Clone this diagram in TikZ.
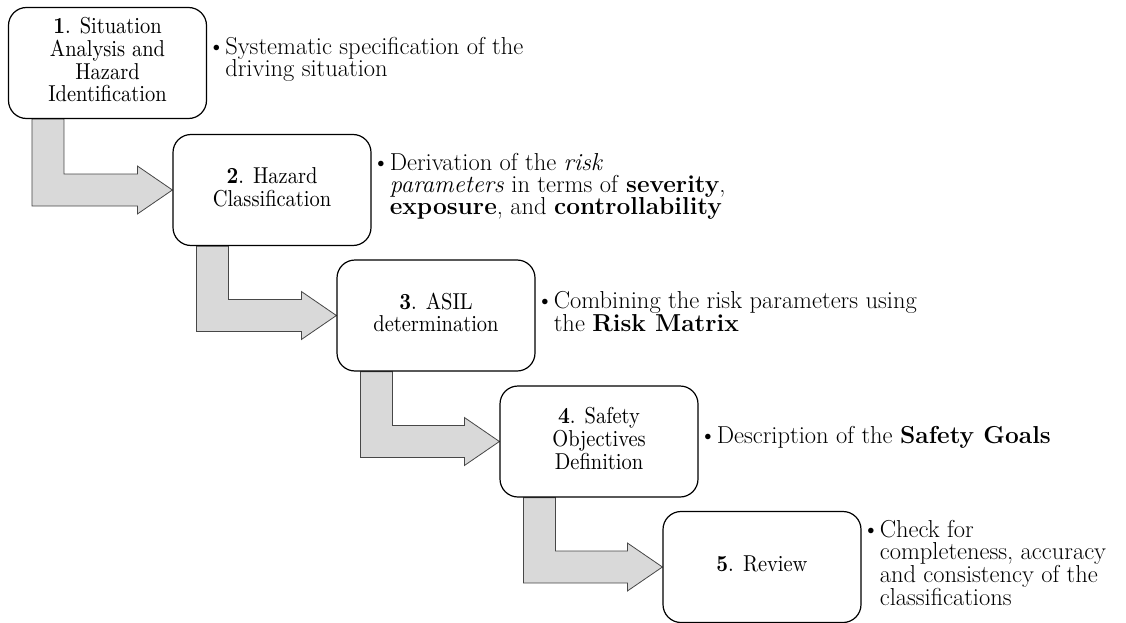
\documentclass[tikz,border=0pt]{standalone}
\usepackage{fontspec}
\usetikzlibrary{calc}
\pgfdeclarelayer{background}
\pgfsetlayers{background,main}

% narrow face for the stage labels
\newfontfamily\stagefont{lmroman10-regular.otf}[BoldFont=lmroman10-bold.otf, FakeStretch=0.89]

% stacked, centred label lines, nudged slightly above the box centre
\newcommand\stagelabel[1]{\raisebox{5pt}{\begin{tabular}{@{}c@{}}#1\end{tabular}}}

% bent gray block arrow from the bottom of one stage to the left side of the next
\newcommand\bendconnect[2]{%
  \draw[bendarrow] let \p1=(#1.south west), \p2=(#2.west) in
    (\x1+24pt,\y1) -- (\x1+56pt,\y1) -- (\x1+56pt,\y2+16pt)
    -- (\x2-35pt,\y2+16pt) -- (\x2-35pt,\y2+24pt) -- (\x2,\y2)
    -- (\x2-35pt,\y2-24pt) -- (\x2-35pt,\y2-16pt) -- (\x1+24pt,\y2-16pt) -- cycle;}

\begin{document}
\begin{tikzpicture}[x=1pt,y=-1pt,
  stagebox/.style={draw=black, line width=1.2pt, rounded corners=18pt, fill=white,
    minimum width=198pt, minimum height=111pt, inner sep=0pt,
    font=\stagefont\fontsize{23}{21.4}\selectfont},
  note/.style={anchor=west, inner sep=0pt, align=left,
    font=\fontsize{24.5}{22}\selectfont},
  bendarrow/.style={draw=black!72, line width=0.8pt, fill=black!15, line join=miter}]
\useasboundingbox (0,0) rectangle (1126,623);

% process stages
\node[stagebox] (s1) at (107.5,63)  {\stagelabel{\textbf{1}. Situation\\Analysis and\\Hazard\\Identification}};
\node[stagebox] (s2) at (272,190)   {\stagelabel{\textbf{2}. Hazard\\Classification}};
\node[stagebox] (s3) at (436,315.5) {\stagelabel{\textbf{3}. ASIL\\determination}};
\node[stagebox] (s4) at (599,441.5) {\stagelabel{\textbf{4}. Safety\\Objectives\\Definition}};
\node[stagebox] (s5) at (762,567)   {\stagelabel{\textbf{5}. Review}};

% descriptions beside each stage
\node[note] (d1) at ($(s1.east)+(18,-4)$) {\llap{\textbullet}Systematic specification of the\\driving situation};
\node[note] (d2) at ($(s2.east)+(18,-4)$) {\llap{\textbullet}Derivation of the \textit{risk}\\\textit{parameters} in terms of \textbf{severity},\\\textbf{exposure}, and \textbf{controllability}};
\node[note] (d3) at ($(s3.east)+(18,-4)$) {\llap{\textbullet}Combining the risk parameters using\\the \textbf{Risk Matrix}};
\node[note] (d4) at ($(s4.east)+(18,-4)$) {\llap{\textbullet}Description of the \textbf{Safety Goals}};
\node[note] (d5) at ($(s5.east)+(18,-4)$) {\llap{\textbullet}Check for\\completeness, accuracy\\and consistency of the\\classifications};

% connectors behind the boxes
\begin{pgfonlayer}{background}
  \bendconnect{s1}{s2}
  \bendconnect{s2}{s3}
  \bendconnect{s3}{s4}
  \bendconnect{s4}{s5}
\end{pgfonlayer}
\end{tikzpicture}
\end{document}
